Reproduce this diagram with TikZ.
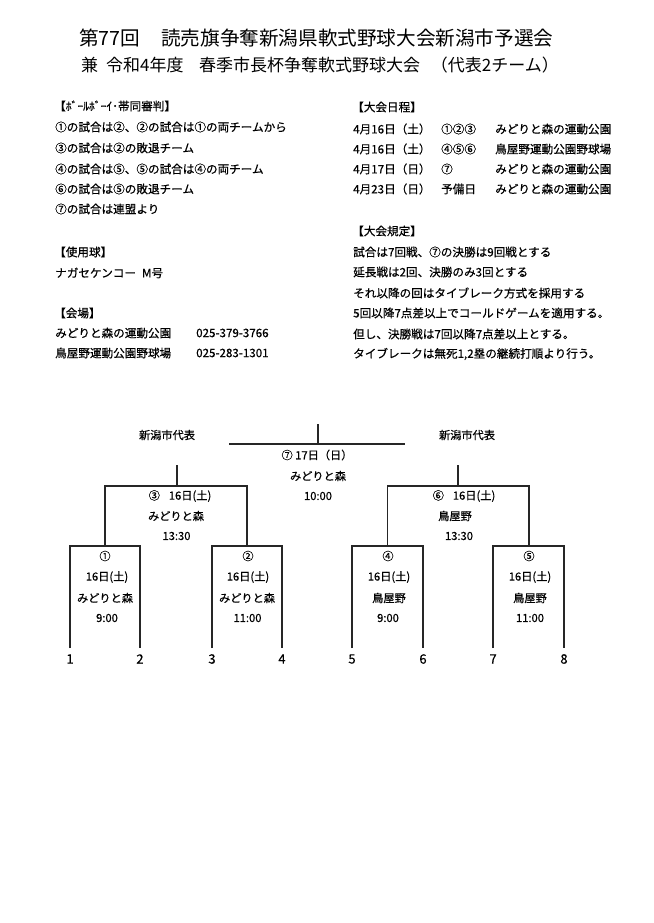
\documentclass[tikz,border=0pt]{standalone}
\usepackage{fontspec}
\setmainfont{Noto Sans CJK JP}
\newfontfamily\bodyf{Noto Sans CJK JP}[FakeBold=0.5]
\begin{document}
\begin{tikzpicture}[x=1pt,y=-1pt,
  txt/.style={anchor=west,inner sep=0pt,font=\bodyf\fontsize{11.6}{13}\selectfont},
  hdrsmall/.style={anchor=west,inner sep=0pt,font=\bodyf\fontsize{11.6}{12}\selectfont},
  ttlA/.style={inner sep=0pt,font=\fontsize{19.6}{24}\selectfont},
  ttlB/.style={inner sep=0pt,font=\fontsize{17}{20}\selectfont},
  bt/.style={anchor=center,inner sep=0pt,font=\bodyf\fontsize{11.2}{13}\selectfont},
  seed/.style={anchor=center,inner sep=0pt,font=\bodyf\fontsize{13}{14}\selectfont},
  brk/.style={line width=1.3pt,draw=black!85}]
\useasboundingbox (0,0) rectangle (653,923);
\fill[white] (0,0) rectangle (653,923);
% titles
\node[ttlA,anchor=west] (t1a) at (79,38) {第77回};
\node[ttlA,anchor=west] (t1b) at (161,38) {読売旗争奪新潟県軟式野球大会新潟市予選会};
\node[ttlB,anchor=west] (t2a) at (81,65) {兼};
\node[ttlB,anchor=west] (t2b) at (106,65) {令和4年度};
\node[ttlB,anchor=west] (t2c) at (199,65) {春季市長杯争奪軟式野球大会};
\node[ttlB,anchor=east] (t2d) at (559,65) {（代表2チーム）};
% left column
\node[hdrsmall] (l0) at (54,106) {【ﾎﾞｰﾙﾎﾞｰｲ･帯同審判】};
\node[txt] (l1) at (55,127) {①の試合は②、②の試合は①の両チームから};
\node[txt] (l2) at (55,148) {③の試合は②の敗退チーム};
\node[txt] (l3) at (55,169) {④の試合は⑤、⑤の試合は④の両チーム};
\node[txt] (l4) at (55,189) {⑥の試合は⑤の敗退チーム};
\node[txt] (l5) at (55,209) {⑦の試合は連盟より};
\node[txt] (l6) at (54,252) {【使用球】};
\node[txt] (l7) at (55,273) {ナガセケンコー\hspace{6pt}M号};
\node[txt] (l8) at (54,313) {【会場】};
\node[txt] (l9) at (55,333) {みどりと森の運動公園};
\node[txt] (l9p) at (196,333) {025-379-3766};
\node[txt] (l10) at (55,353) {鳥屋野運動公園野球場};
\node[txt] (l10p) at (196,353) {025-283-1301};
% right column
\node[txt] (r0) at (352,107) {【大会日程】};
\node[txt] (r1a) at (353,129) {4月16日（土）};
\node[txt] (r1b) at (441,129) {①②③};
\node[txt] (r1c) at (495,129) {みどりと森の運動公園};
\node[txt] (r2a) at (353,149) {4月16日（土）};
\node[txt] (r2b) at (441,149) {④⑤⑥};
\node[txt] (r2c) at (495,149) {鳥屋野運動公園野球場};
\node[txt] (r3a) at (353,169) {4月17日（日）};
\node[txt] (r3b) at (441,169) {⑦};
\node[txt] (r3c) at (495,169) {みどりと森の運動公園};
\node[txt] (r4a) at (353,189) {4月23日（日）};
\node[txt] (r4b) at (441,189) {予備日};
\node[txt] (r4c) at (495,189) {みどりと森の運動公園};
\node[txt] (r5) at (352,231) {【大会規定】};
\node[txt] (r6) at (353,252) {試合は7回戦、⑦の決勝は9回戦とする};
\node[txt] (r7) at (353,272) {延長戦は2回、決勝のみ3回とする};
\node[txt] (r8) at (353,293) {それ以降の回はタイブレーク方式を採用する};
\node[txt] (r9) at (353,313) {5回以降7点差以上でコールドゲームを適用する。};
\node[txt] (r10) at (353,334) {但し、決勝戦は7回以降7点差以上とする。};
\node[txt] (r11) at (353,354) {タイブレークは無死1,2塁の継続打順より行う。};
% bracket coordinates
\coordinate (fT) at (318,424);
\coordinate (fB) at (318,444);
\coordinate (fL) at (229,444);
\coordinate (fR) at (405,444);
\coordinate (sLt) at (177,465);
\coordinate (sLb) at (177,486);
\coordinate (sLl) at (105,486);
\coordinate (sLr) at (247,486);
\coordinate (sLld) at (105,546);
\coordinate (sLrd) at (247,546);
\coordinate (sRt) at (458,465);
\coordinate (sRb) at (458,486);
\coordinate (sRl) at (387.5,486);
\coordinate (sRr) at (529,486);
\coordinate (sRld) at (387.5,546);
\coordinate (sRrd) at (529,546);
\foreach \n/\a/\b in {1/70/140,2/212/282,3/352/423,4/493/564}{
  \coordinate (q\n l) at (\a,546);
  \coordinate (q\n r) at (\b,546);
  \coordinate (q\n ld) at (\a,648);
  \coordinate (q\n rd) at (\b,648);
}
% bracket lines
\draw[brk] (fT) -- (fB);
\draw[brk] (fL) -- (fR);
\draw[brk] (sLt) -- (sLb);
\draw[brk] (sLld) -- (sLl) -- (sLr) -- (sLrd);
\draw[brk] (sRt) -- (sRb);
\draw[brk] (sRld) -- (sRl) -- (sRr) -- (sRrd);
\foreach \n in {1,2,3,4}{
  \draw[brk] (q\n ld) -- (q\n l) -- (q\n r) -- (q\n rd);
}
% bracket texts
\node[bt] (repL) at (167,435) {新潟市代表};
\node[bt] (repR) at (467,435) {新潟市代表};
\node[bt] (g7a) at (317,455) {⑦ 17日（日）};
\node[bt] (g7b) at (318,476) {みどりと森};
\node[bt] (g7c) at (318,496) {10:00};
\node[bt] (g3a) at (180,496) {③\hspace{9pt}16日(土)};
\node[bt] (g3b) at (176,516) {みどりと森};
\node[bt] (g3c) at (176.5,536) {13:30};
\node[bt] (g6a) at (464,496) {⑥\hspace{9pt}16日(土)};
\node[bt] (g6b) at (455,516) {鳥屋野};
\node[bt] (g6c) at (459,536) {13:30};
\node[bt] (g1a) at (105,556) {①};
\node[bt] (g1b) at (107,577) {16日(土)};
\node[bt] (g1c) at (105,598) {みどりと森};
\node[bt] (g1d) at (107,618) {9:00};
\node[bt] (g2a) at (248,556) {②};
\node[bt] (g2b) at (248,577) {16日(土)};
\node[bt] (g2c) at (247,598) {みどりと森};
\node[bt] (g2d) at (247.5,618) {11:00};
\node[bt] (g4a) at (388,556) {④};
\node[bt] (g4b) at (389,577) {16日(土)};
\node[bt] (g4c) at (389,598) {鳥屋野};
\node[bt] (g4d) at (388,618) {9:00};
\node[bt] (g5a) at (529,556) {⑤};
\node[bt] (g5b) at (530,577) {16日(土)};
\node[bt] (g5c) at (530,598) {鳥屋野};
\node[bt] (g5d) at (530,618) {11:00};
% seeds
\node[seed] (s1) at (70,659) {1};
\node[seed] (s2) at (140,659) {2};
\node[seed] (s3) at (212,659) {3};
\node[seed] (s4) at (282,659) {4};
\node[seed] (s5) at (352,659) {5};
\node[seed] (s6) at (423,659) {6};
\node[seed] (s7) at (493,659) {7};
\node[seed] (s8) at (564,659) {8};
\end{tikzpicture}
\end{document}
